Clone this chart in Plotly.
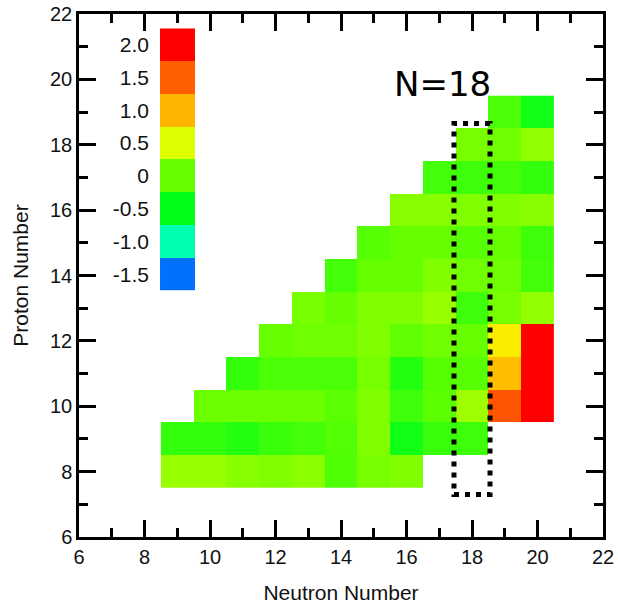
import plotly.graph_objects as go

# Neutron (columns) and proton (rows) numbers of the nuclide grid
neutrons = [9, 10, 11, 12, 13, 14, 15, 16, 17, 18, 19, 20]
protons = [8, 9, 10, 11, 12, 13, 14, 15, 16, 17, 18, 19]

# One row per proton number, one entry per neutron number (None = no data)
row_z8 = [0.21, 0.21, 0.14, 0.11, 0.15, -0.12, 0.07, 0.11, None, None, None, None]
row_z9 = [-0.25, -0.25, -0.33, -0.21, -0.17, -0.10, 0.11, -0.42, -0.22, -0.20, None, None]
row_z10 = [None, 0.025, 0.025, 0.025, 0.025, -0.06, 0.11, -0.20, -0.05, 0.24, 1.55, 2.0]
row_z11 = [None, None, -0.25, -0.13, -0.13, -0.13, 0.07, -0.33, -0.08, -0.08, 0.95, 2.0]
row_z12 = [None, None, None, 0.0, 0.04, 0.04, 0.11, -0.03, 0.04, 0.0, 0.72, 2.0]
row_z13 = [None, None, None, None, 0.07, 0.0, 0.11, 0.11, 0.21, -0.20, 0.07, 0.18]
row_z14 = [None, None, None, None, None, -0.17, 0.0, 0.0, 0.11, 0.04, 0.04, -0.17]
row_z15 = [None, None, None, None, None, None, -0.08, 0.0, 0.0, -0.08, 0.0, -0.20]
row_z16 = [None, None, None, None, None, None, None, 0.14, 0.14, 0.11, 0.11, 0.14]
row_z17 = [None, None, None, None, None, None, None, None, -0.17, -0.20, -0.17, -0.25]
row_z18 = [None, None, None, None, None, None, None, None, None, 0.07, 0.04, 0.18]
row_z19 = [None, None, None, None, None, None, None, None, None, None, -0.13, -0.42]

grid = [row_z8, row_z9, row_z10, row_z11, row_z12, row_z13,
        row_z14, row_z15, row_z16, row_z17, row_z18, row_z19]

# Colour key
legend_values = [-1.5, -1.0, -0.5, 0.0, 0.5, 1.0, 1.5, 2.0]
legend_labels = ["-1.5", "-1.0", "-0.5", "0", "0.5", "1.0", "1.5", "2.0"]

# Axis ticks
axis_ticks = [6, 8, 10, 12, 14, 16, 18, 20, 22]

ZMIN, ZMAX = -1.5, 2.0


def pos(v):
    return (v - ZMIN) / (ZMAX - ZMIN)


colorscale = [
    [pos(-1.5), "#0070FF"],
    [pos(-1.0), "#00FFB0"],
    [pos(-0.5), "#00FF18"],
    [pos(0.0), "#66FF00"],
    [pos(0.5), "#DDFF00"],
    [pos(0.75), "#FFEA00"],
    [pos(1.0), "#FFB400"],
    [pos(1.5), "#FF5F00"],
    [pos(2.0), "#FF0000"],
]

FONT = "Liberation Sans, Arial, sans-serif"
INK = "#111111"

fig = go.Figure()

fig.add_trace(go.Heatmap(
    x=neutrons, y=protons, z=grid,
    colorscale=colorscale, zmin=ZMIN, zmax=ZMAX,
    showscale=False, hoverongaps=False,
    xaxis="x", yaxis="y",
))

# Colour key drawn as a one-column heatmap on its own small axes
fig.add_trace(go.Heatmap(
    x=[0], y=legend_labels, z=[[v] for v in legend_values],
    colorscale=colorscale, zmin=ZMIN, zmax=ZMAX,
    showscale=False,
    xaxis="x2", yaxis="y2",
))

# Dotted frame around the N=18 isotones
fig.add_shape(
    type="rect", xref="x", yref="y",
    x0=17.45, x1=18.55, y0=7.3, y1=18.65,
    line=dict(color="black", width=5, dash="5px,6px"),
    fillcolor="rgba(0,0,0,0)",
)

fig.add_annotation(
    x=17.11, y=19.85, xref="x", yref="y",
    text="N=18", showarrow=False,
    font=dict(family="DejaVu Sans", size=34, color="black"),
)

axis_common = dict(
    range=[6, 22],
    tickmode="array", tickvals=axis_ticks,
    ticks="inside", ticklen=17, tickwidth=2.5, tickcolor="black",
    minor=dict(dtick=1, ticks="inside", ticklen=9, tickwidth=2.5, tickcolor="black"),
    showline=True, linecolor="black", linewidth=2.5, mirror="ticks",
    showgrid=False, zeroline=False, automargin=False,
    tickfont=dict(family=FONT, size=20, color=INK),
)

fig.update_layout(
    width=618, height=604,
    margin=dict(l=79, r=15, t=14, b=67),
    paper_bgcolor="white", plot_bgcolor="white",
    xaxis=dict(
        **axis_common,
        title=dict(text="Neutron Number", font=dict(family=FONT, size=21, color=INK), standoff=24),
        domain=[0, 1],
    ),
    yaxis=dict(
        **axis_common,
        title=dict(text="Proton Number", font=dict(family=FONT, size=21, color=INK), standoff=16),
        domain=[0, 1],
    ),
    xaxis2=dict(
        domain=[0.1546, 0.2214], anchor="y2", range=[-0.5, 0.5],
        visible=False, fixedrange=True,
    ),
    yaxis2=dict(
        domain=[0.471, 0.9727], anchor="x2", type="category",
        categoryorder="array", categoryarray=legend_labels,
        side="left", showline=False, showgrid=False, zeroline=False,
        ticks="", ticklabelstandoff=10, automargin=False,
        tickfont=dict(family=FONT, size=21, color=INK),
    ),
)

fig.write_html("out.html")
